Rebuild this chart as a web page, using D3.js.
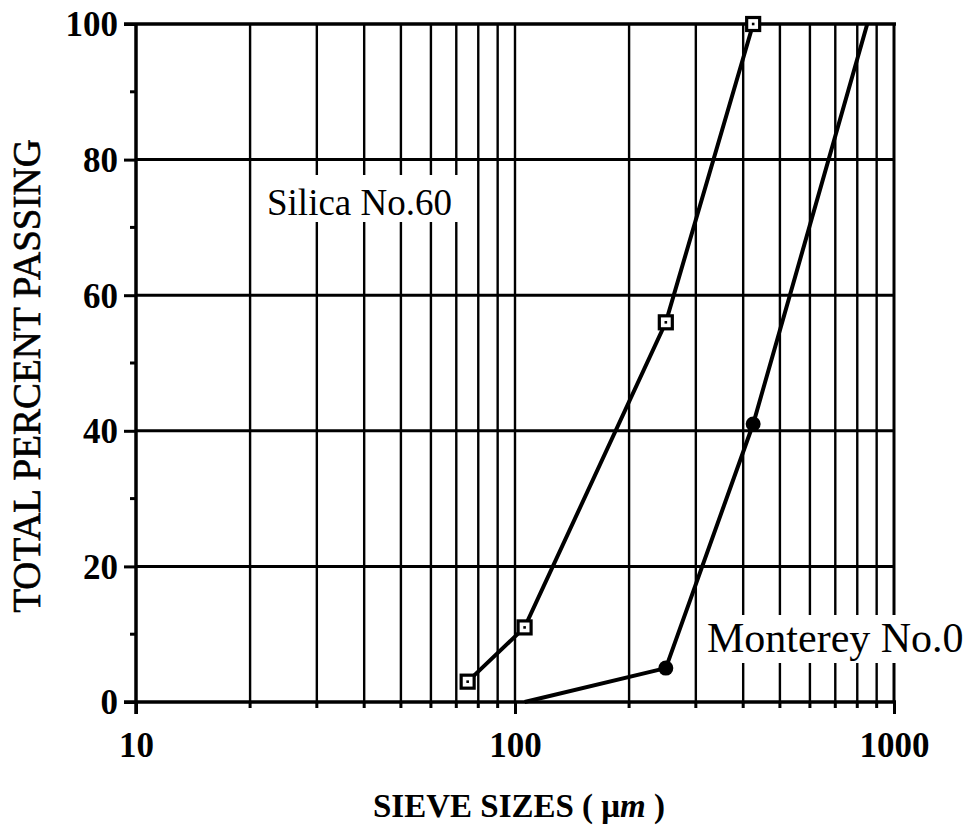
<!DOCTYPE html>
<html>
<head>
<meta charset="utf-8">
<script src="https://cdn.jsdelivr.net/npm/d3@7"></script>
<style>
  html, body { margin: 0; padding: 0; background: #fff; }
  svg { display: block; }
  text { font-family: "Liberation Serif", "Times New Roman", serif; fill: #000; }
</style>
</head>
<body>
<svg id="chart" width="976" height="830"></svg>
<script>
// Sieve sizes (µm) and percent passing for each sand
const silicaSizes   = [75, 106, 250, 425];
const silicaPassing = [3, 11, 56, 100];
const montereySizes   = [106, 250, 425, 850];
const montereyPassing = [0, 5, 41, 100];

const xTickValues = [10, 100, 1000];
const xTickLabels = ["10", "100", "1000"];
const yTickValues = [0, 20, 40, 60, 80, 100];
const yMinorTicks = [10, 30, 50, 70, 90];

const svg = d3.select("#chart");
const plotLeft = 136, plotRight = 894, plotTop = 24, plotBottom = 702;

const x = d3.scaleLog().domain([10, 1000]).range([plotLeft, plotRight]);
const y = d3.scaleLinear().domain([0, 100]).range([plotBottom, plotTop]);

// log-cycle minor values 20..90, 200..900
const minorX = [];
[10, 100].forEach(d => { for (let k = 2; k <= 9; k++) minorX.push(d * k); });

const grid = svg.append("g");

// vertical grid lines
grid.selectAll("line.vx").data(minorX.concat([100])).join("line")
  .attr("x1", d => x(d)).attr("x2", d => x(d))
  .attr("y1", plotTop).attr("y2", plotBottom)
  .attr("stroke", "#000").attr("stroke-width", 2.4);

// horizontal grid lines
grid.selectAll("line.hy").data([20, 40, 60, 80]).join("line")
  .attr("x1", plotLeft).attr("x2", plotRight)
  .attr("y1", d => y(d)).attr("y2", d => y(d))
  .attr("stroke", "#000").attr("stroke-width", 3);

// frame
grid.append("line").attr("x1", plotLeft - 12).attr("x2", plotRight + 2).attr("y1", plotTop).attr("y2", plotTop)
  .attr("stroke", "#000").attr("stroke-width", 3.5);
grid.append("line").attr("x1", plotRight).attr("x2", plotRight).attr("y1", plotTop).attr("y2", plotBottom)
  .attr("stroke", "#000").attr("stroke-width", 3);

// Y axis
const yAxis = d3.axisLeft(y).tickValues(yTickValues).tickSize(12).tickFormat(d3.format("d"));
const gy = svg.append("g").attr("transform", `translate(${plotLeft},0)`).call(yAxis);
gy.select(".domain").attr("stroke-width", 3.5).attr("d", `M0,${plotTop}V${plotBottom + 12}`);
gy.selectAll(".tick line").attr("stroke-width", 3);
gy.selectAll(".tick text")
  .attr("x", -18).attr("dy", "0.34em")
  .style("font-size", "35px").style("font-weight", "bold").attr("fill", "#000");

// Y minor ticks
svg.append("g").selectAll("line").data(yMinorTicks).join("line")
  .attr("x1", plotLeft - 6).attr("x2", plotLeft)
  .attr("y1", d => y(d)).attr("y2", d => y(d))
  .attr("stroke", "#000").attr("stroke-width", 3);

// X axis
const xAxis = d3.axisBottom(x).tickValues(xTickValues).tickSize(12)
  .tickFormat((d, i) => xTickLabels[i]);
const gx = svg.append("g").attr("transform", `translate(0,${plotBottom})`).call(xAxis);
gx.select(".domain").attr("stroke-width", 3.5).attr("d", `M${plotLeft - 12},0H${plotRight + 2}`);
gx.selectAll(".tick line").attr("stroke-width", 3);
gx.selectAll(".tick text")
  .attr("y", 30).attr("dy", "0.71em")
  .style("font-size", "35px").style("font-weight", "bold").attr("fill", "#000");

// X minor ticks
svg.append("g").selectAll("line").data(minorX).join("line")
  .attr("x1", d => x(d)).attr("x2", d => x(d))
  .attr("y1", plotBottom).attr("y2", plotBottom + 6)
  .attr("stroke", "#000").attr("stroke-width", 3);

// axis titles
svg.append("text")
  .attr("transform", `translate(40,${(140 + 612) / 2}) rotate(-90)`)
  .attr("text-anchor", "middle")
  .style("font-size", "39px")
  .attr("stroke", "#000").attr("stroke-width", 0.6)
  .text("TOTAL PERCENT PASSING");

const xt = svg.append("text")
  .attr("x", 519).attr("y", 817)
  .attr("text-anchor", "middle")
  .style("font-size", "33px").style("font-weight", "bold");
xt.append("tspan").text("SIEVE SIZES ( ");
xt.append("tspan").text("μ");
xt.append("tspan").style("font-style", "italic").text("m");
xt.append("tspan").text("  )");

// series
const line = d3.line().x(d => x(d[0])).y(d => y(d[1]));
const silica = d3.zip(silicaSizes, silicaPassing);
const monterey = d3.zip(montereySizes, montereyPassing);

svg.append("path").datum(silica).attr("d", line)
  .attr("fill", "none").attr("stroke", "#000").attr("stroke-width", 4);
svg.append("path").datum(monterey).attr("d", line)
  .attr("fill", "none").attr("stroke", "#000").attr("stroke-width", 4);

// Monterey markers: filled dots (first point sits on the axis without a marker)
svg.append("g").selectAll("circle").data(monterey.slice(1, 3)).join("circle")
  .attr("cx", d => x(d[0])).attr("cy", d => y(d[1])).attr("r", 7.5)
  .attr("fill", "#000");

// Silica markers: open squares with a centre dot
const sq = svg.append("g").selectAll("g").data(silica).join("g")
  .attr("transform", d => `translate(${x(d[0])},${y(d[1])})`);
sq.append("rect").attr("x", -6.5).attr("y", -6.5).attr("width", 13).attr("height", 13)
  .attr("fill", "#fff").attr("stroke", "#000").attr("stroke-width", 3.2);
sq.append("rect").attr("x", -1.3).attr("y", -1.3).attr("width", 2.6).attr("height", 2.6)
  .attr("fill", "#000");

// series labels on white backgrounds
svg.append("rect").attr("x", 258).attr("y", 175).attr("width", 206).attr("height", 47).attr("fill", "#fff");
svg.append("text").attr("x", 267).attr("y", 215)
  .style("font-size", "37px").text("Silica No.60");

svg.append("rect").attr("x", 703).attr("y", 615).attr("width", 273).attr("height", 48).attr("fill", "#fff");
svg.append("text").attr("x", 707).attr("y", 652)
  .style("font-size", "42px").text("Monterey No.0");
</script>
</body>
</html>
